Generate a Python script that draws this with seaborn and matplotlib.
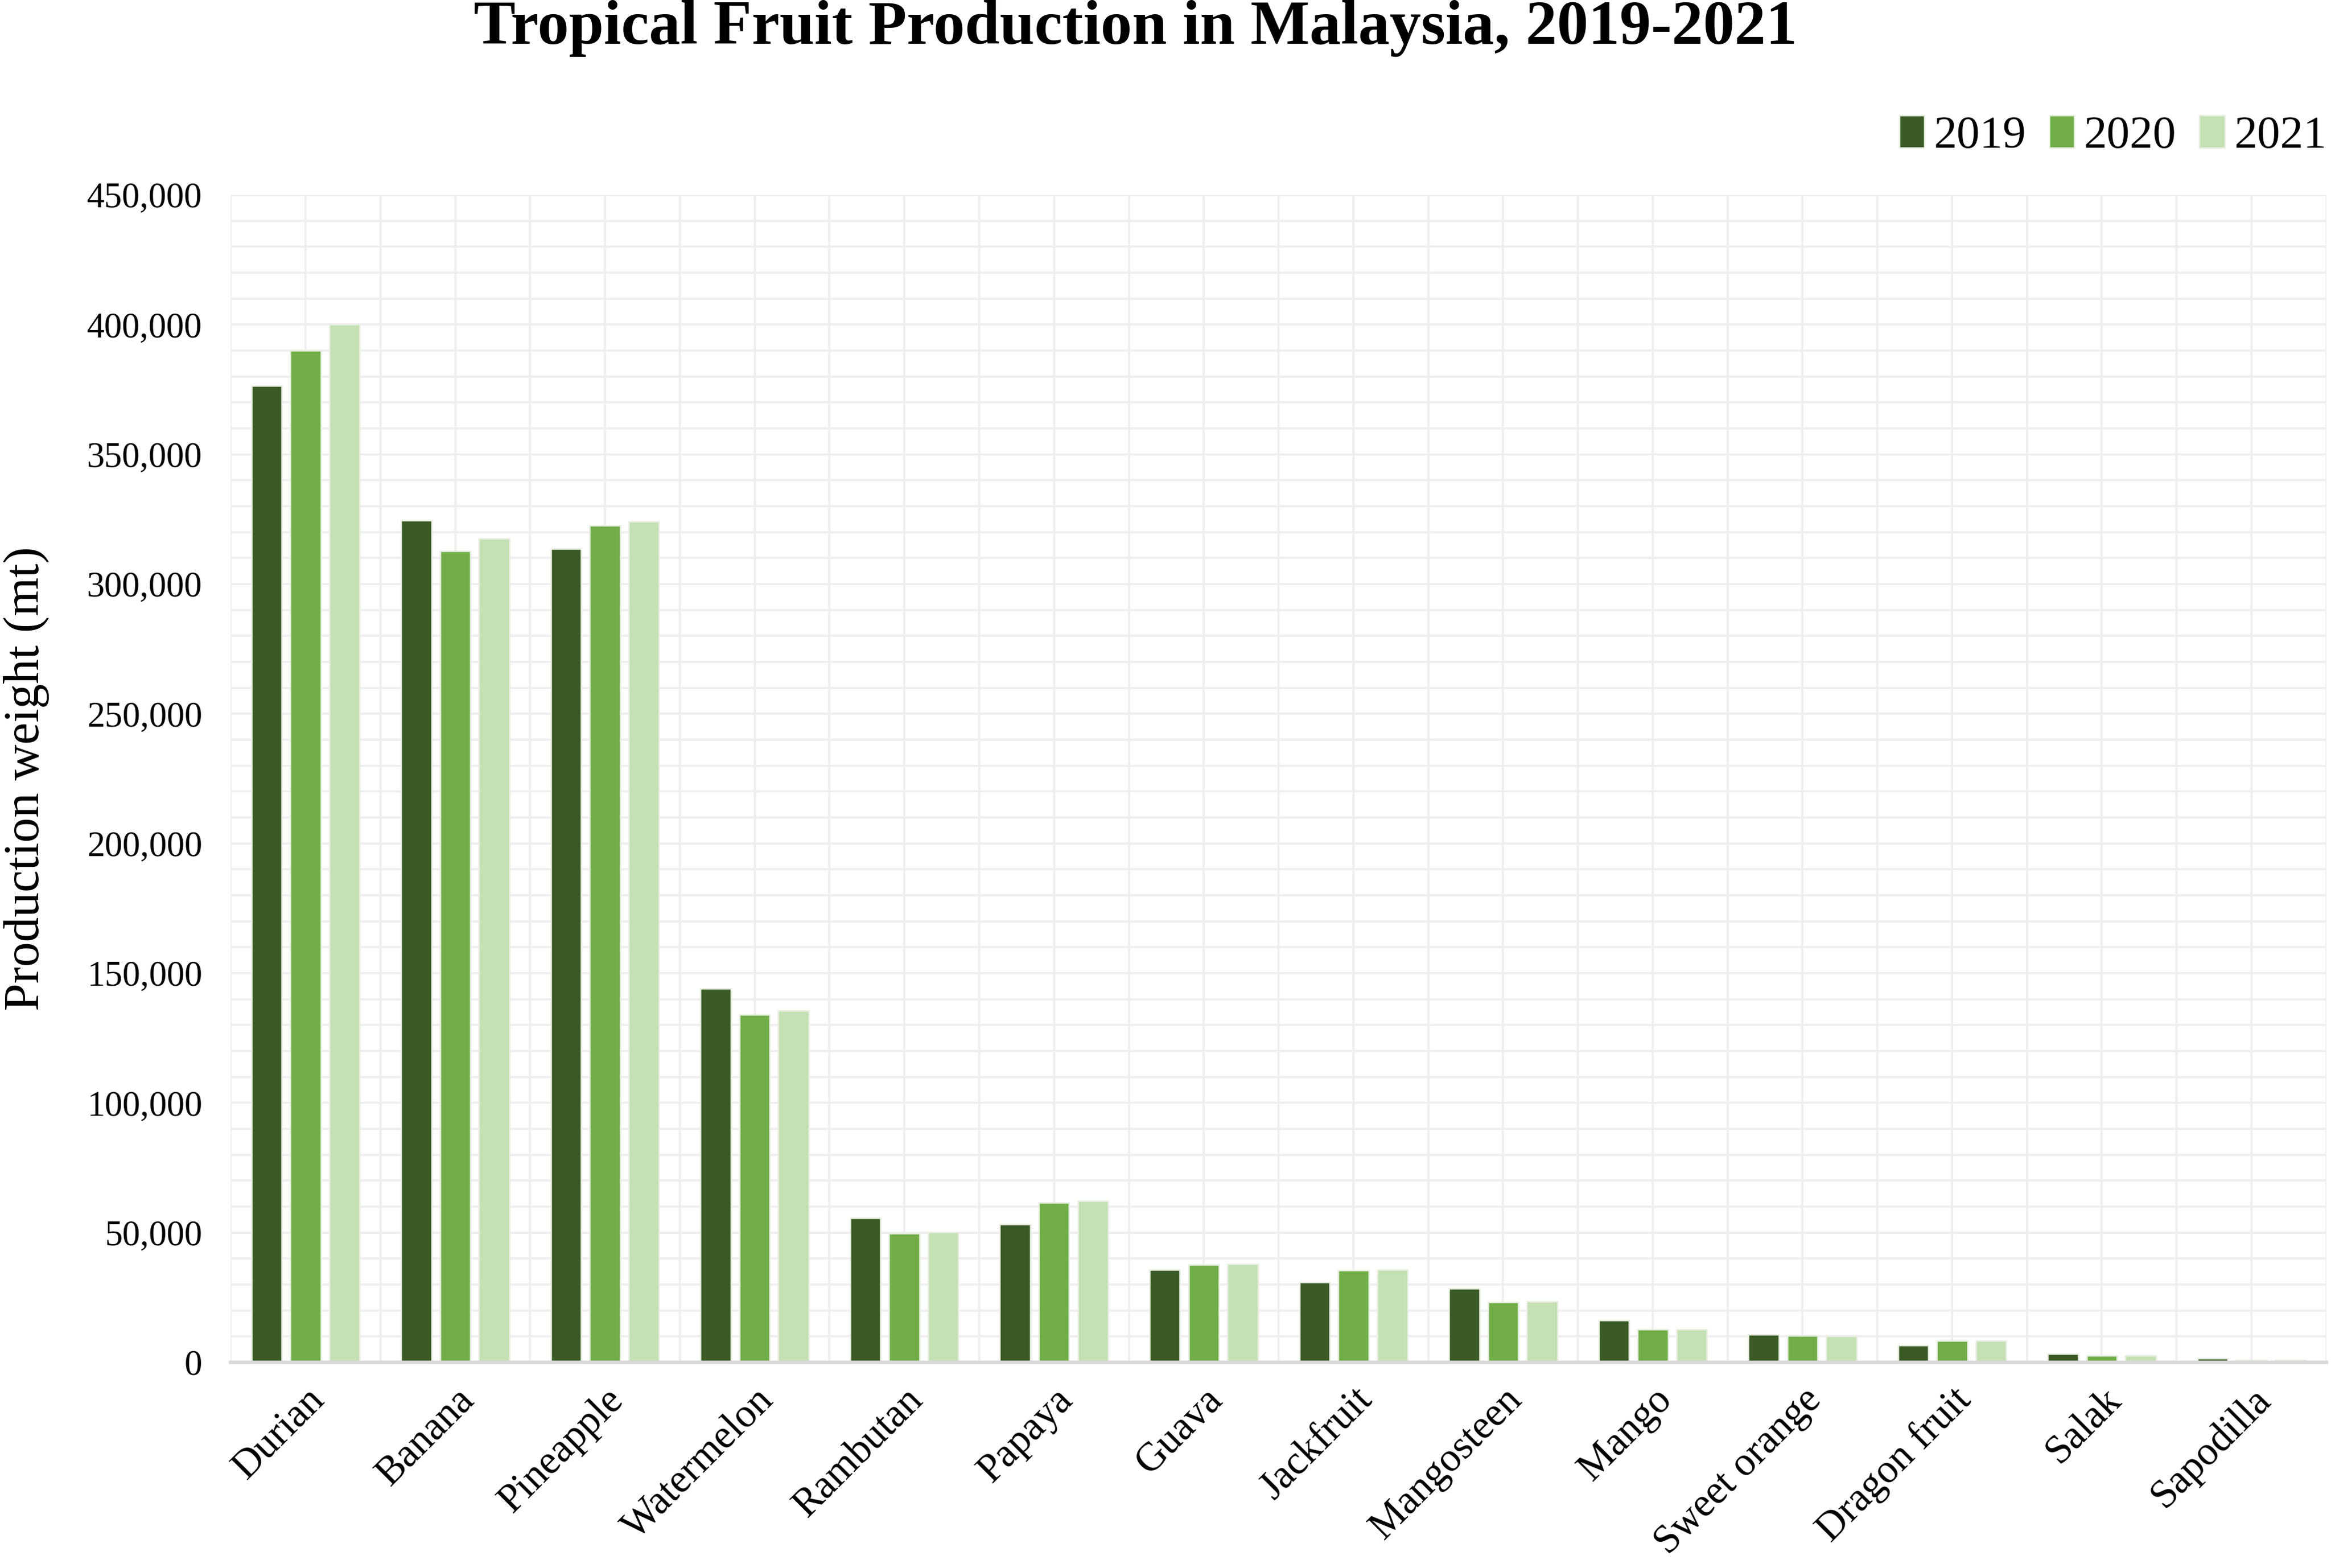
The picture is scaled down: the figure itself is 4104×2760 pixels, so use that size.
import matplotlib
matplotlib.use("Agg")
import matplotlib.pyplot as plt
from matplotlib.ticker import MultipleLocator, FuncFormatter
import pandas as pd
import seaborn as sns

fruits = ["Durian", "Banana", "Pineapple", "Watermelon", "Rambutan", "Papaya", "Guava",
          "Jackfruit", "Mangosteen", "Mango", "Sweet orange", "Dragon fruit", "Salak", "Sapodilla"]
years = ["2019", "2020", "2021"]
prod_2019 = [376500, 324500, 313500, 144000, 55500, 53300, 35600, 30900, 28400, 16200, 10600, 6600, 3200, 1600]
prod_2020 = [390000, 312800, 322500, 134000, 49600, 61500, 37600, 35400, 23200, 12600, 10200, 8200, 2700, 900]
prod_2021 = [400000, 317500, 324000, 135500, 50200, 62100, 37900, 35600, 23300, 12600, 10100, 8200, 2600, 900]
colors = ["#3B5A25", "#70AD47", "#C5E0B4"]

rows = []
for yr, vals in zip(years, [prod_2019, prod_2020, prod_2021]):
    for f, v in zip(fruits, vals):
        rows.append({"Fruit": f, "Year": yr, "Production": v})
df = pd.DataFrame(rows)

sns.set_theme(style="white")
plt.rcParams["font.family"] = ["Liberation Serif", "DejaVu Serif"]
plt.rcParams["text.color"] = "black"
plt.rcParams["xtick.color"] = "black"
plt.rcParams["ytick.color"] = "black"
plt.rcParams["axes.labelcolor"] = "black"

fig = plt.figure(figsize=(13.68, 9.2), dpi=300)
ax = fig.add_axes([0.099, 0.1312, 0.899, 0.7445])

sns.barplot(data=df, x="Fruit", y="Production", hue="Year", palette=colors,
            width=0.78, gap=0.22, order=fruits, hue_order=years, ax=ax,
            saturation=1, legend=True, edgecolor="#E6EFE0", linewidth=0.6)

ax.set_ylim(0, 450000)
ax.set_xlim(-0.5, len(fruits) - 0.5)
ax.yaxis.set_major_locator(MultipleLocator(50000))
ax.yaxis.set_minor_locator(MultipleLocator(10000))
ax.xaxis.set_minor_locator(MultipleLocator(0.5))
ax.set_xticks(range(len(fruits)))
ax.set_xticklabels(fruits, rotation=45, ha="right", rotation_mode="anchor", fontsize=17)
ax.yaxis.set_major_formatter(FuncFormatter(lambda v, p: f"{int(v):,}"))
ax.tick_params(axis="y", labelsize=15, length=0, pad=12)
ax.tick_params(axis="x", length=0, pad=8)
ax.tick_params(which="minor", length=0)

ax.grid(True, which="both", axis="both", color="#EFEFEF", linewidth=0.9)
ax.set_axisbelow(True)
for s in ["top", "right", "left"]:
    ax.spines[s].set_visible(False)
ax.spines["bottom"].set_color("#D9D9D9")
ax.spines["bottom"].set_linewidth(1.5)

ax.set_xlabel("")
ax.set_ylabel("Production weight (mt)", fontsize=21, va="center")
ax.yaxis.set_label_coords(-0.0975, 0.5)

handles, labels = ax.get_legend_handles_labels()
ax.get_legend().remove()
fig.legend(handles, labels, loc="center right", bbox_to_anchor=(0.998, 0.913), ncol=3,
           frameon=False, fontsize=19.5, handlelength=0.55, handleheight=0.7,
           handletextpad=0.2, columnspacing=0.5, borderaxespad=0, borderpad=0)

fig.text(0.487, 0.982, "Tropical Fruit Production in Malaysia, 2019-2021",
         ha="center", va="center", fontsize=26.5, fontweight="bold")

fig.savefig("out.png", dpi=300)
plt.close()
